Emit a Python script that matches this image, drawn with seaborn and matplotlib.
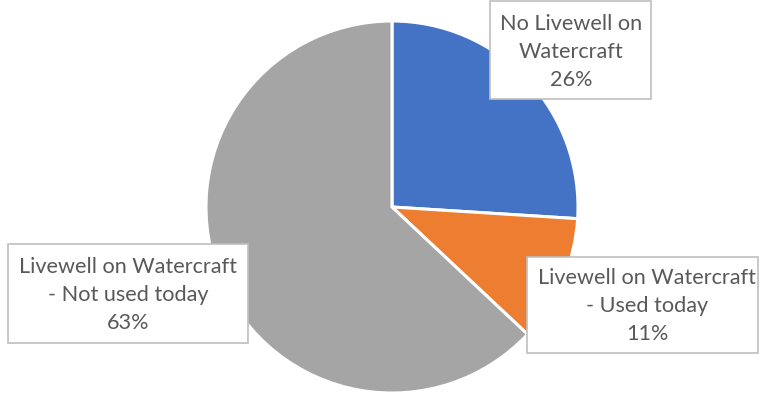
import matplotlib
matplotlib.use("Agg")
import matplotlib.pyplot as plt
from matplotlib.patches import Rectangle
import seaborn as sns

# Survey response shares
categories = ["No Livewell on\nWatercraft",
              "Livewell on Watercraft\n- Used today",
              "Livewell on Watercraft\n- Not used today"]
shares = [26, 11, 63]
colors = ["#4472C4", "#ED7D31", "#A5A5A5"]

sns.set_theme(style="white")
plt.rcParams["font.family"] = ["Lato", "DejaVu Sans"]

W, H = 759, 398
fig = plt.figure(figsize=(W / 100, H / 100), dpi=100)
ax = fig.add_axes([0, 0, 1, 1])

cx, cy, r = 392, H - 207, 186
ax.pie(shares, colors=colors, startangle=90, counterclock=False,
       center=(cx, cy), radius=r, frame=True,
       wedgeprops=dict(edgecolor="white", linewidth=2.2))
ax.set_xlim(0, W)
ax.set_ylim(0, H)
ax.set_aspect("equal")
ax.axis("off")

# label boxes: (left, top, right, bottom) in pixels from top-left, text centre x
boxes = [(490, 1, 651, 99, 571),
         (527, 257, 758, 353, 647),
         (8, 244, 248, 343, 128)]

for (l, t, rgt, b, tx), cat, val in zip(boxes, categories, shares):
    ax.add_patch(Rectangle((l, H - b), rgt - l, b - t, facecolor="white",
                           edgecolor="#BFBFBF", linewidth=1.2, zorder=3))
    ax.text(tx, H - (t + b) / 2 - 1.5, f"{cat}\n{val}%", ha="center", va="center",
            fontsize=15.6, color="#595959", linespacing=1.5, zorder=4)

fig.savefig("out.png", dpi=100)
